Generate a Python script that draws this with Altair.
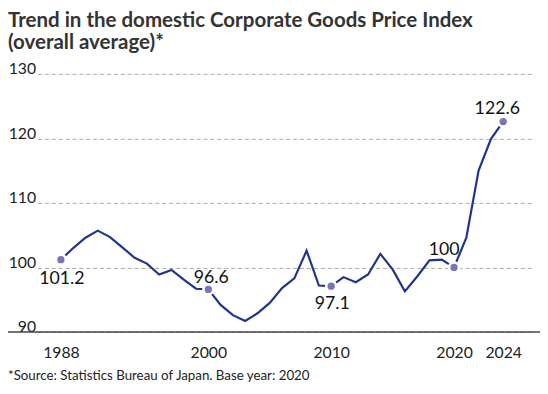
import altair as alt
import pandas as pd

# ---- data ----
years = list(range(1988, 2025))
values = [101.2, 103.0, 104.6, 105.7, 104.7, 103.1, 101.5, 100.6, 98.9, 99.6,
          98.1, 96.7, 96.6, 94.2, 92.6, 91.7, 92.9, 94.5, 96.8, 98.3,
          102.6, 97.2, 97.1, 98.5, 97.7, 98.9, 102.1, 99.7, 96.3, 98.6,
          101.1, 101.2, 100.0, 104.6, 115.0, 119.9, 122.6]
highlight_years = [1988, 2000, 2010, 2020, 2024]
highlight_labels = ["101.2", "96.6", "97.1", "100", "122.6"]
x_ticks = [1988, 2000, 2010, 2020, 2024]
y_ticks = [90, 100, 110, 120, 130]
title_lines = ["Trend in the domestic Corporate Goods Price Index",
               "(overall average)*"]
footnote = "*Source: Statistics Bureau of Japan. Base year: 2020"

df = pd.DataFrame({"year": years, "value": values})
lookup = dict(zip(years, values))
hl = pd.DataFrame({"year": highlight_years,
                   "value": [lookup[y] for y in highlight_years],
                   "label": highlight_labels})

W, H = 502, 262
LEFT = 30
FONT = "Lato"

xs = alt.Scale(domain=[1986.099, 2026.356], nice=False, zero=False)
ys = alt.Scale(domain=[90, 130], nice=False, zero=False)

base = alt.Chart(df)

line = base.mark_line(color="#1f3491", strokeWidth=2.2).encode(
    x=alt.X("year:Q", scale=xs,
            axis=alt.Axis(values=x_ticks, format="d", title=None, grid=False,
                          domain=False, ticks=False, labelFontSize=16,
                          labelFont=FONT, labelColor="#222", labelPadding=13,
                          labelBaseline="top")),
    y=alt.Y("value:Q", scale=ys,
            axis=alt.Axis(values=y_ticks, title=None, grid=True,
                          gridDash=[4, 3], gridColor="#aaaaaa", gridWidth=1,
                          domain=False, ticks=False, labelFontSize=16,
                          labelFont=FONT, labelColor="#222", labelAlign="right",
                          labelBaseline="alphabetic", labelPadding=2)),
)

baseline = alt.Chart(pd.DataFrame({"v": [90]})).mark_rule(
    color="#444444", strokeWidth=1.5).encode(
    x=alt.value(-LEFT), x2=alt.value(W + 8), y=alt.value(H))

hbase = alt.Chart(hl).encode(x=alt.X("year:Q", scale=xs),
                             y=alt.Y("value:Q", scale=ys))
halo = hbase.mark_circle(size=160, color="white", opacity=1)
dots = hbase.mark_circle(size=55, color="#7b74b9", opacity=1)

offsets = {"101.2": (1, 25), "96.6": (3, -6), "97.1": (1, 23),
           "100": (-10, -13), "122.6": (-6, -8)}
label_layers = []
for lab in highlight_labels:
    dx, dy = offsets[lab]
    label_layers.append(
        hbase.transform_filter(alt.datum.label == lab).mark_text(
            font=FONT, fontSize=18, color="#111", align="center",
            baseline="alphabetic", dx=dx, dy=dy).encode(text="label:N"))

title1 = alt.Chart(pd.DataFrame({"t": [title_lines[0]]})).mark_text(
    font=FONT, fontSize=20.8, fontWeight="bold", color="#333", align="left",
    baseline="alphabetic").encode(text="t:N", x=alt.value(-LEFT), y=alt.value(-48))
title2 = alt.Chart(pd.DataFrame({"t": [title_lines[1]]})).mark_text(
    font=FONT, fontSize=20.8, fontWeight="bold", color="#333", align="left",
    baseline="alphabetic").encode(text="t:N", x=alt.value(-LEFT), y=alt.value(-25.5))
foot = alt.Chart(pd.DataFrame({"t": [footnote]})).mark_text(
    font=FONT, fontSize=13.5, color="#222", align="left",
    baseline="alphabetic").encode(text="t:N", x=alt.value(-LEFT), y=alt.value(311))

chart = alt.layer(line, baseline, halo, dots, *label_layers,
                  title1, title2, foot).properties(
    width=W, height=H,
    autosize=alt.AutoSizeParams(type="none"),
    padding={"left": LEFT, "top": 64, "right": 8, "bottom": 52},
).configure_view(stroke=None)

chart.save("out.html", embed_options={"renderer": "svg", "actions": False})
